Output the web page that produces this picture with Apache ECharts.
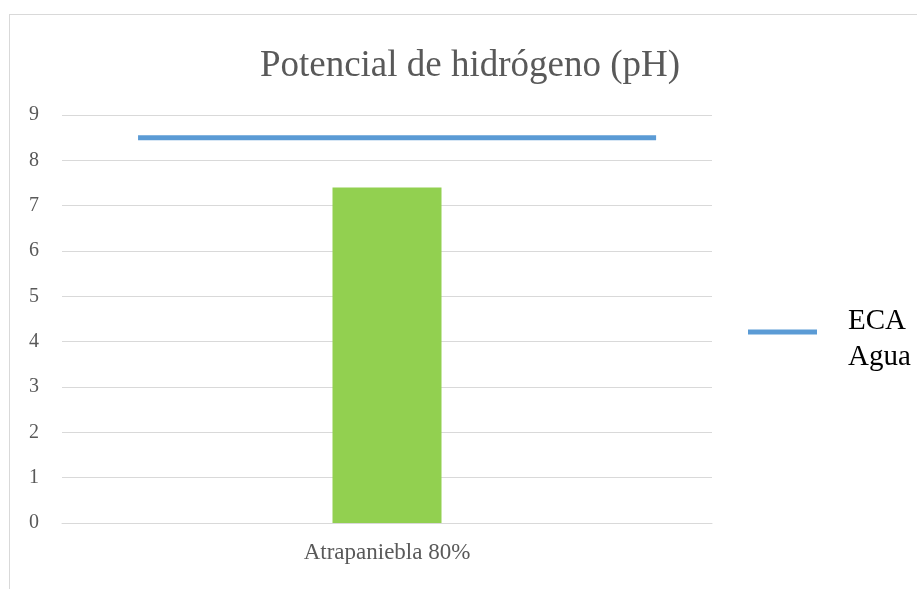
<!DOCTYPE html>
<html>
<head>
<meta charset="utf-8">
<script src="https://cdn.jsdelivr.net/npm/echarts@6/dist/echarts.min.js"></script>
<style>
    html, body { margin: 0; padding: 0; background: #fff; }
    #frame { position: absolute; left: 9px; top: 14px; width: 908px; height: 575px;
             border-left: 1px solid #d9d9d9; border-top: 1px solid #d9d9d9; }
    #chart { position: absolute; left: 0; top: 0; width: 917px; height: 589px; }
</style>
</head>
<body>
<div id="frame"></div>
<div id="chart"></div>
<script>
var categories = ['Atrapaniebla 80%'];
var phValues = [7.4];
var ecaName = 'ECA Agua';
var ecaValue = 8.5;
// extent of the ECA line across the plot (fraction of plot width)
var ecaSpan = [0.117, 0.914];
var yTicks = [0, 1, 2, 3, 4, 5, 6, 7, 8, 9];

var font = 'Liberation Serif, Times New Roman, serif';

var chart = echarts.init(document.getElementById('chart'));
var option = {
    animation: false,
    title: {
        text: 'Potencial de hidrógeno (pH)',
        left: 465,
        textAlign: 'center',
        top: 43,
        textStyle: { fontFamily: font, fontSize: 37, fontWeight: 'normal', color: '#595959' }
    },
    legend: {
        data: [ecaName],
        left: 743,
        top: 290,
        icon: 'rect',
        itemWidth: 69,
        itemHeight: 5,
        itemGap: 0,
        // empty first line pushes the two text lines below the icon
        formatter: function () { return '{s| }\n{a|ECA}\n{a|Agua}'; },
        textStyle: {
            fontFamily: font, fontSize: 29, color: '#000', padding: [0, 0, 0, 26],
            rich: {
                s: { fontSize: 2, lineHeight: 14 },
                a: { fontFamily: font, fontSize: 29, color: '#000', lineHeight: 36 }
            }
        }
    },
    grid: { left: 62, right: 205, top: 115, bottom: 66 },
    xAxis: [
        {
            type: 'category',
            data: categories,
            axisLine: { lineStyle: { color: '#d9d9d9' } },
            axisTick: { show: false },
            axisLabel: { fontFamily: font, fontSize: 23, color: '#595959', margin: 18 }
        },
        {
            type: 'value',
            min: 0,
            max: 1,
            show: false
        }
    ],
    yAxis: {
        type: 'value',
        min: yTicks[0],
        max: yTicks[yTicks.length - 1],
        interval: 1,
        axisLine: { show: false },
        axisTick: { show: false },
        axisLabel: { fontFamily: font, fontSize: 20, color: '#595959', margin: 23 },
        splitLine: { lineStyle: { color: '#d9d9d9', width: 1 } }
    },
    series: [
        {
            name: 'pH',
            type: 'bar',
            data: phValues,
            barWidth: 109,
            itemStyle: { color: '#92d050' }
        },
        {
            name: ecaName,
            type: 'line',
            xAxisIndex: 1,
            data: ecaSpan.map(function (x) { return [x, ecaValue]; }),
            showSymbol: false,
            symbol: 'none',
            lineStyle: { color: '#5b9bd5', width: 5, cap: 'butt' },
            itemStyle: { color: '#5b9bd5' }
        }
    ]
};
chart.setOption(option);
</script>
</body>
</html>
